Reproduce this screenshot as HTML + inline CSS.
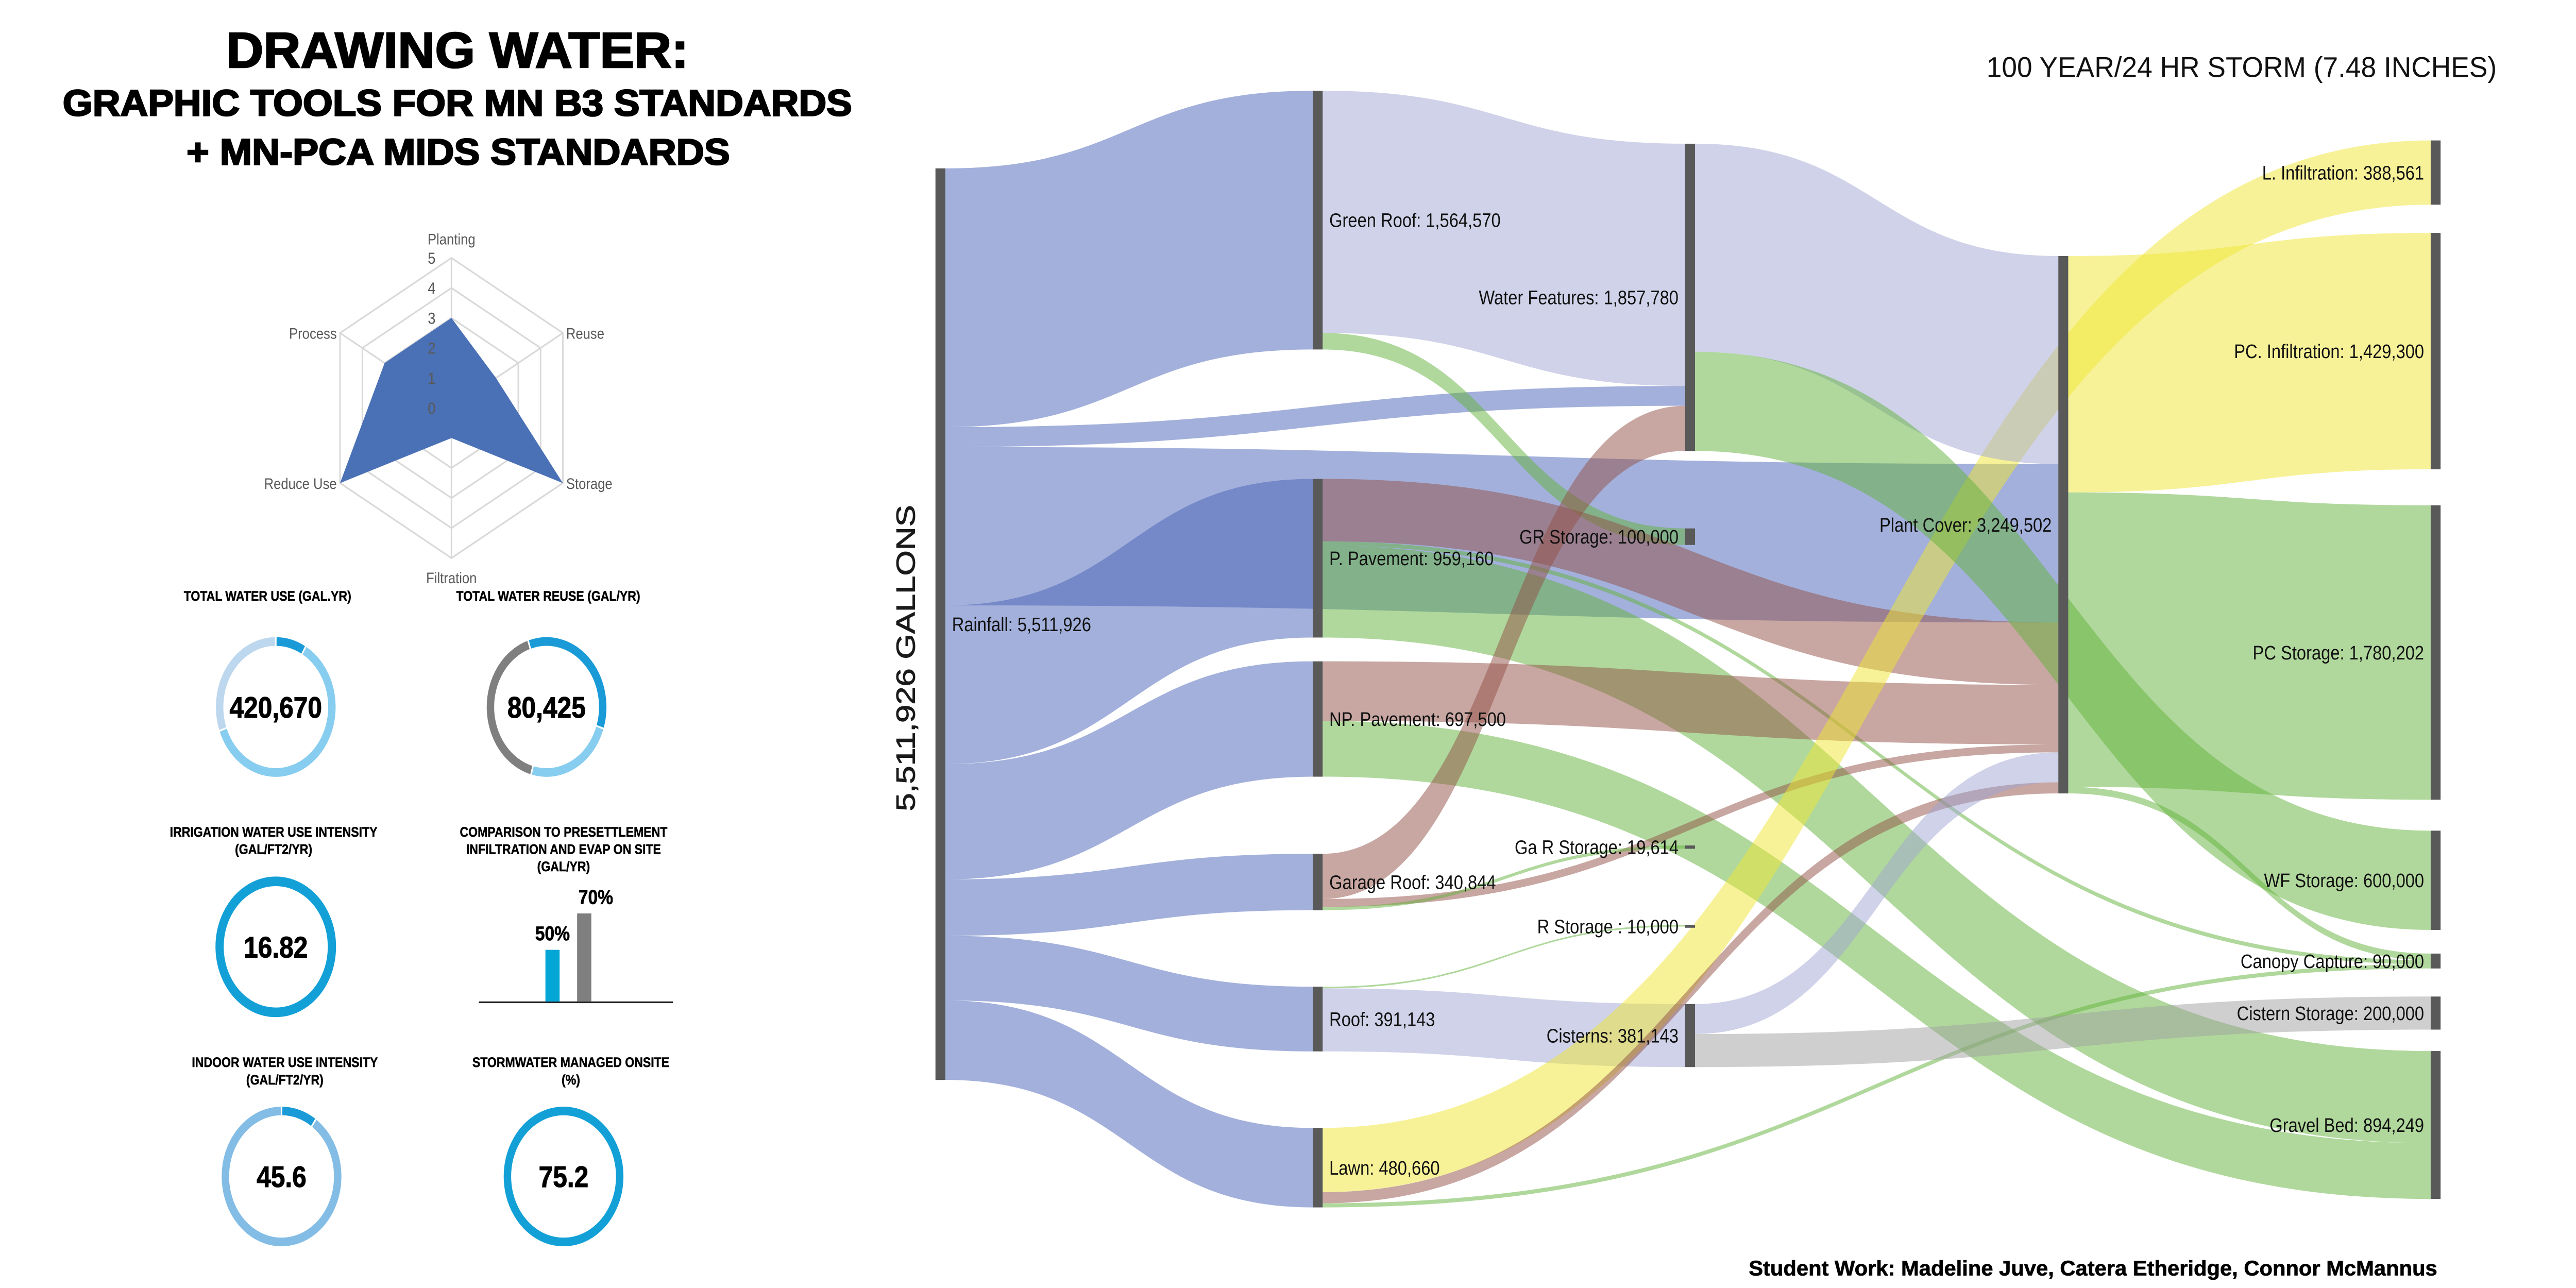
<!DOCTYPE html>
<html><head><meta charset="utf-8"><style>
html,body{margin:0;padding:0;background:#fff;width:100vw;height:100vh;overflow:hidden;}
svg{display:block;width:100vw;height:100vh;}
</style></head><body>
<svg id="root" xmlns="http://www.w3.org/2000/svg" viewBox="0 0 1560 668.6" preserveAspectRatio="none" font-family="'Liberation Sans', sans-serif">
<rect width="1560" height="668.6" fill="#fff"/>
<g font-weight="bold" fill="#000" stroke="#000" stroke-width="0.7" text-anchor="middle">
<text x="277" y="35" font-size="26" textLength="280" lengthAdjust="spacingAndGlyphs">DRAWING WATER:</text>
<text x="277" y="60" font-size="19" textLength="478" lengthAdjust="spacingAndGlyphs">GRAPHIC TOOLS FOR MN B3 STANDARDS</text>
<text x="277.5" y="85.5" font-size="19" textLength="329" lengthAdjust="spacingAndGlyphs">+ MN-PCA MIDS STANDARDS</text>
</g>
<g id="radar"></g>
<g id="kpis"></g>
<g id="sankey"></g>
<text x="1512" y="40" font-size="15" text-anchor="end" textLength="309" lengthAdjust="spacingAndGlyphs" fill="#111">100 YEAR/24 HR STORM (7.48 INCHES)</text>
<text x="0" y="0" font-size="16" text-anchor="middle" fill="#1a1a1a" stroke="#1a1a1a" stroke-width="0.3" textLength="159" lengthAdjust="spacingAndGlyphs" transform="translate(554,341.6) rotate(-90)">5,511,926 GALLONS</text>
<text x="1476" y="662" font-size="11" font-weight="bold" stroke="#000" stroke-width="0.2" text-anchor="end" textLength="417" lengthAdjust="spacingAndGlyphs">Student Work: Madeline Juve, Catera Etheridge, Connor McMannus</text>
</svg>
<script>
// ---------- Radar data ----------
const radarAxes = ["Planting","Reuse","Storage","Filtration","Reduce Use","Process"];
const radarValues = [3,2,5,1,5,3];
const radarTicks = ["0","1","2","3","4","5"];
// ---------- KPI data ----------
const kpiTitles = [["TOTAL WATER USE (GAL.YR)"],["TOTAL WATER REUSE (GAL/YR)"],["IRRIGATION WATER USE INTENSITY","(GAL/FT2/YR)"],["COMPARISON TO PRESETTLEMENT","INFILTRATION AND EVAP ON SITE","(GAL/YR)"],["INDOOR WATER USE INTENSITY","(GAL/FT2/YR)"],["STORMWATER MANAGED ONSITE","(%)"]];
const donutValues = ["420,670","80,425","16.82","45.6","75.2"];
const donut1Shares = [30,220,110];
const donut2Shares = [126,87,147];
const donut3Shares = [360];
const donut4Shares = [35,325];
const donut5Shares = [360];
const barLabels = ["50%","70%"];
const barValues = [50,70];
// ---------- Sankey data ----------
const nodeNames = ["Rainfall","Green Roof","P. Pavement","NP. Pavement","Garage Roof","Roof","Lawn","Water Features","GR Storage","Ga R Storage","R Storage ","Cisterns","Plant Cover","L. Infiltration","PC. Infiltration","PC Storage","WF Storage","Canopy Capture","Cistern Storage","Gravel Bed"];
const linkSources = [0,0,0,0,0,0,0,0,1,1,2,2,2,3,3,4,4,4,5,5,6,6,6,7,7,11,11,12,12,12];
const linkTargets = [1,7,12,2,3,4,5,6,7,8,12,17,19,12,19,7,12,9,10,11,13,12,17,12,16,12,18,14,15,17];
const linkValues = [1564570,120000,958049,959160,697500,340844,391143,480660,1464570,100000,377411,25000,556749,360000,337500,273210,48020,19614,10000,381143,388561,67099,25000,1257780,600000,181143,200000,1429300,1780202,40000];
const linkKinds = ["b","b","b","b","b","b","b","b","l","g","r","g","g","r","g","r","r","g","g","l","y","r","g","l","g","l","k","y","g","g"];

const NS="http://www.w3.org/2000/svg";
function mk(tag,attrs,parent){const e=document.createElementNS(NS,tag);for(const k in attrs)e.setAttribute(k,attrs[k]);if(parent)parent.appendChild(e);return e;}

// ---------- Radar ----------
(function(){
const g=document.getElementById('radar');
const cx=273.4, cy=211.8, R=77.9, maxV=5;
const pt=(i,v)=>{const a=(i*60-90)*Math.PI/180;const r=R*v/maxV;return [cx+r*Math.cos(a),cy+r*Math.sin(a)];};
for(let lv=1;lv<=5;lv++){
  const p=radarAxes.map((_,i)=>pt(i,lv).join(',')).join(' ');
  const ring=mk('polygon',{points:p,fill:'none',stroke:'#d9d9d9','stroke-width':0.9},g);
  
  
}
radarAxes.forEach((_,i)=>{const [x,y]=pt(i,5);const l=mk('line',{x1:cx,y1:cy,x2:x,y2:y,stroke:'#d9d9d9','stroke-width':0.9},g);
  
  });
const poly=mk('polygon',{points:radarValues.map((v,i)=>pt(i,v).join(',')).join(' '),fill:'#4a70b6'},g);


radarTicks.forEach((t,i)=>{const y=cy-R*i/maxV+3;const tx=mk('text',{x:cx-12,y:y,'font-size':8.5,fill:'#595959','text-anchor':'middle'},g);tx.textContent=t;
  
  });
radarAxes.forEach((name,i)=>{const [x,y]=pt(i,5);let anchor='middle',dx=0,dy=3;
  if(i===0){dy=-7;} else if(i===3){dy=13;} else if(i===1||i===2){anchor='start';dx=2;} else {anchor='end';dx=-2;}
  const t=mk('text',{x:x+dx,y:y+dy,'font-size':8,fill:'#595959','text-anchor':anchor},g);t.textContent=name;
  
  });
})();

// ---------- KPIs ----------
(function(){
const g=document.getElementById('kpis');
const titlePos=[[162,309.3],[332,309.3],[165.7,431.8],[341.3,431.8],[172.5,551.4],[345.7,551.4]];
kpiTitles.forEach((lines,k)=>{lines.forEach((s,j)=>{
  const t=mk('text',{x:titlePos[k][0],y:titlePos[k][1]+2.5+j*9,'font-size':7.2,'font-weight':'bold','text-anchor':'middle',fill:'#000',stroke:'#000','stroke-width':0.15},g);
  t.textContent=s;
  
  
});});
function arc(cx,cy,r,a0,a1){const p=a=>{const t=(a-90)*Math.PI/180;return [cx+r*Math.cos(t),cy+r*Math.sin(t)];};
  if(a1-a0>=359.9){return `M ${cx} ${cy-r} A ${r} ${r} 0 1 1 ${cx-0.01} ${cy-r}`;}
  const [x0,y0]=p(a0),[x1,y1]=p(a1);return `M ${x0} ${y0} A ${r} ${r} 0 ${a1-a0>180?1:0} 1 ${x1} ${y1}`;}
const donuts=[
 {cx:167,cy:367,r:34,shares:donut1Shares,start:0,cols:['#1a9bd7','#87cdf0','#bdd7ee'],sw:4.5},
 {cx:331,cy:367,r:34,shares:donut2Shares,start:-18,cols:['#1a9bd7','#87cdf0','#7f7f7f'],sw:4.5},
 {cx:167,cy:491.5,r:34,shares:donut3Shares,start:0,cols:['#12a0d7'],sw:5},
 {cx:170.5,cy:610.7,r:34,shares:donut4Shares,start:0,cols:['#1a9bd7','#83bde5'],sw:4.5},
 {cx:341.3,cy:610.7,r:34,shares:donut5Shares,start:0,cols:['#12a0d7'],sw:4.5}];
donuts.forEach((d,k)=>{let a=d.start;const tot=d.shares.reduce((s,v)=>s+v,0);
  d.shares.forEach((s,i)=>{const a1=a+360*s/tot;const gap=d.shares.length>1?0.8:0;
    const p=mk('path',{d:arc(d.cx,d.cy,d.r,a+gap,a1-gap),fill:'none',stroke:d.cols[i],'stroke-width':d.sw},g);
    
    
    a=a1;});
  const t=mk('text',{x:d.cx,y:d.cy+5.5,'font-size':15.5,'font-weight':'bold','text-anchor':'middle',fill:'#000',stroke:'#000','stroke-width':0.3},g);
  t.textContent=donutValues[k];
  
  
});
const base=519.9, barX=[330.3,349.5], bw=8.6;
const yScale=v=>base-(v-21.6)*0.945;
const ax=mk('line',{x1:290,y1:base+0.4,x2:407.5,y2:base+0.4,stroke:'#222','stroke-width':0.9},g);


const bc=['#04a6d6','#7f7f7f'];
barValues.forEach((v,i)=>{const y=yScale(v);
  const r=mk('rect',{x:barX[i],y:y,width:bw,height:base-y,fill:bc[i]},g);
  
  
  const t=mk('text',{x:barX[i]+bw/2-(i===0?0:-7),y:y-5,'font-size':10.5,'font-weight':'bold','text-anchor':'middle',fill:'#000',stroke:'#000','stroke-width':0.2},g);
  t.textContent=barLabels[i];
  
  
});
})();

// ---------- Sankey ----------
(function(){
const g=document.getElementById('sankey');
const colX=[566.5,795,1020.5,1246.5,1472], nodeW=6;
const nodeCol=[0,1,1,1,1,1,1,2,2,2,2,2,3,4,4,4,4,4,4,4];
const nodeTop=[87.4,47.1,248.6,343.3,443.2,512.2,585.5,74.6,274.3,438.9,480.1,521.2,132.9,72.9,120.9,262.3,431.2,495,517.3,545.6];
const k=473.2/5511926;
const kindColor={b:'rgba(72,98,184,0.5)',l:'rgba(160,165,210,0.5)',g:'rgba(98,178,58,0.5)',r:'rgba(145,80,70,0.5)',y:'rgba(240,230,50,0.5)',k:'rgba(160,160,160,0.5)'};
const n=nodeNames.length;
const inSum=new Array(n).fill(0), outSum=new Array(n).fill(0);
linkValues.forEach((v,i)=>{outSum[linkSources[i]]+=v;inSum[linkTargets[i]]+=v;});
const nodeVal=nodeNames.map((_,i)=>Math.max(inSum[i],outSum[i]));
const sy0=[],ty0=[];
for(let j=0;j<n;j++){
  let off=nodeTop[j];
  linkValues.map((v,i)=>i).filter(i=>linkSources[i]===j).sort((a,b)=>nodeTop[linkTargets[a]]-nodeTop[linkTargets[b]]).forEach(i=>{sy0[i]=off;off+=linkValues[i]*k;});
  off=nodeTop[j];
  linkValues.map((v,i)=>i).filter(i=>linkTargets[i]===j).sort((a,b)=>nodeTop[linkSources[a]]-nodeTop[linkSources[b]]).forEach(i=>{ty0[i]=off;off+=linkValues[i]*k;});
}
const lg=mk('g',{},g);
linkValues.forEach((v,i)=>{
  const h=v*k, x0=colX[nodeCol[linkSources[i]]]+nodeW, x1=colX[nodeCol[linkTargets[i]]], xm=(x0+x1)/2;
  const a=sy0[i], b=ty0[i];
  const d=`M${x0},${a} C${xm},${a} ${xm},${b} ${x1},${b} L${x1},${b+h} C${xm},${b+h} ${xm},${a+h} ${x0},${a+h} Z`;
  const p=mk('path',{d:d,fill:kindColor[linkKinds[i]]},lg);
  
  
});
const fmt=v=>v.toLocaleString('en-US');
nodeNames.forEach((name,j)=>{
  const col=nodeCol[j], x=colX[col], h=Math.max(nodeVal[j]*k,1.5);
  const r=mk('rect',{x:x,y:nodeTop[j],width:nodeW,height:h,fill:'#595959'},g);
  
  
  const left=col<=1;
  const t=mk('text',{x:left?x+nodeW+4:x-4,y:nodeTop[j]+h/2+3.6,'font-size':10.2,'text-anchor':left?'start':'end',fill:'#111'},g);
  t.textContent=name+': '+fmt(nodeVal[j]);
  
  
});
})();
</script>
</body></html>
